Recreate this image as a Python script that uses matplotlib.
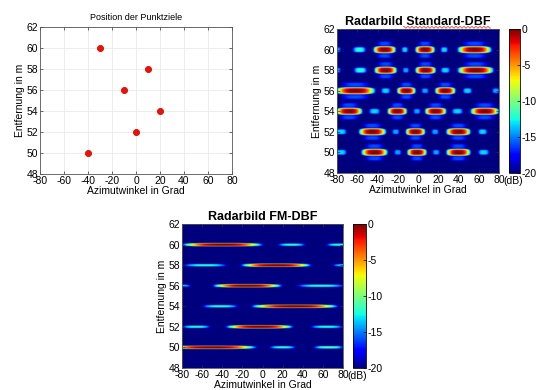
import numpy as np
import matplotlib
matplotlib.use('Agg')
import matplotlib.pyplot as plt

plt.rcParams['font.family'] = ['Liberation Sans', 'DejaVu Sans']
plt.rcParams['axes.unicode_minus'] = False

# ---------------- data ----------------
target_az = [-30, 10, -10, 20, 0, -40]
target_rng = [60, 58, 56, 54, 52, 50]

x_ticks = [-80, -60, -40, -20, 0, 20, 40, 60, 80]
y_ticks = [48, 50, 52, 54, 56, 58, 60, 62]
cbar_ticks = [0, -5, -10, -15, -20]

# Standard-DBF image: lobes (range m, azimuth deg, peak dB, half width deg)
std_rng = [60]*7 + [58]*7 + [56]*7 + [54]*7 + [52]*7 + [50]*7
std_az = [-80, -58, -33, -13, 7, 26, 56,
          -80, -57, -32, -12, 7.5, 27, 57,
          -62, -32, -11.5, 7, 27, 49, 77,
          -68, -43, -20.5, -1, 17.5, 39, 66,
          -76, -45, -22, -2.5, 17, 40, 64,
          -76, -43, -20, -1, 18, 40, 65]
std_peak = [-14, -12, 0, -13, 0, -13, 0,
            -14, -12, 0, -14, 0, -13, 0,
            0, -13, 0, -14, 0, -13, -14,
            0, -13, 0, -14, 0, -13, 0,
            -13, 0, -14, 0, -14, 0, -13,
            -13, 0, -14, 0, -14, 0, -13]
std_hw = [4, 7, 12, 3.5, 10.5, 4, 18,
          4, 7, 12, 3.5, 11, 5, 19,
          21, 5, 10, 4, 11, 5, 4,
          14, 6, 10.5, 4, 11.5, 6, 15,
          6, 14.5, 4, 10.5, 4, 13, 5,
          6, 14, 4, 10.5, 4, 13, 6]

# FM-DBF image lobes
fm_rng = [60]*3 + [58]*3 + [56]*3 + [54]*2 + [52]*3 + [50]*3
fm_az = [-40, 29, 76,
         -57, 13.5, 82,
         -84, -15, 58,
         -42, 32,
         -66, -3, 64,
         -50, 20, 66]
fm_peak = [0, -12, -12,
           -12, 0, -13,
           -13, 0, -12,
           -12, 0,
           -12, 0, -12,
           0, -12, -11]
fm_hw = [42, 14.6, 13,
         23, 36.5, 13,
         14, 36, 25,
         19, 45,
         15, 35, 17,
         46, 14, 16]

DB_MIN, DB_MAX = -20, 0


def render(rng, az, peak, hw, hw_r, p, p_r, halo):
    a = np.linspace(-80, 80, 480)
    r = np.linspace(48, 62, 420)
    A, R = np.meshgrid(a, r)
    img = np.full(A.shape, -40.0)
    lobes = list(zip(rng, az, peak, hw))
    if halo:
        for (r0, a0, pk, w) in list(lobes):
            if pk >= -1:
                lobes.append((r0 + 0.6, a0, -16, 0.7 * w))
                lobes.append((r0 - 0.6, a0, -16, 0.7 * w))
    for (r0, a0, pk, w) in lobes:
        v = (pk - (20 + pk) * (np.abs(A - a0) / w) ** p
             - 20 * (np.abs(R - r0) / hw_r) ** p_r)
        img = np.maximum(img, v)
    return np.clip(img, DB_MIN, DB_MAX)


img_std = render(std_rng, std_az, std_peak, std_hw, 0.38, 3, 4, True)
img_fm = render(fm_rng, fm_az, fm_peak, fm_hw, 0.18, 3, 4, False)

# ---------------- figure ----------------
W, H = 550, 390
fig = plt.figure(figsize=(W / 100, H / 100), dpi=100)


def box(l, t, r, b):
    return [l / W, 1 - b / H, (r - l) / W, (b - t) / H]


TICK_FS = 7.5
LAB_FS = 7.5


def style_axes(ax):
    ax.set_xlim(-80, 80)
    ax.set_ylim(48, 62)
    ax.set_xticks(x_ticks)
    ax.set_yticks(y_ticks)
    ax.tick_params(direction='in', length=2.5, width=0.5, labelsize=TICK_FS,
                   pad=1.5, top=True, right=True, colors='#333333',
                   labelcolor='black')
    for s in ax.spines.values():
        s.set_linewidth(0.6)
        s.set_color('#555555')
    ax.set_xlabel('Azimutwinkel in Grad', fontsize=LAB_FS, labelpad=0)
    ax.set_ylabel('Entfernung in m', fontsize=LAB_FS, labelpad=1)


# top-left scatter
ax1 = fig.add_axes(box(40, 27, 232, 174))
ax1.scatter(target_az, target_rng, s=20, color='#ee1100', edgecolors='#cc0000',
            linewidths=0.5, zorder=3)
style_axes(ax1)
ax1.grid(True, color='#e6e6e6', linewidth=0.5)
ax1.set_axisbelow(True)
ax1.set_title('Position der Punktziele', fontsize=6.5, pad=5)


def image_panel(img, axbox, cbbox, title):
    ax = fig.add_axes(box(*axbox))
    im = ax.imshow(img, origin='lower', extent=[-80, 80, 48, 62], aspect='auto',
                   cmap='jet', vmin=DB_MIN, vmax=DB_MAX, interpolation='bilinear')
    style_axes(ax)
    ax.set_title(title, fontsize=9, fontweight='bold', pad=3)
    cax = fig.add_axes(box(*cbbox))
    cb = fig.colorbar(im, cax=cax, ticks=cbar_ticks)
    cb.ax.tick_params(labelsize=TICK_FS, length=2, width=0.5, direction='in', pad=1)
    cb.outline.set_linewidth(0.6)
    cb.ax.set_yticklabels([str(t) for t in cbar_ticks])
    fig.text((cbbox[0] + 4) / W, 1 - (cbbox[3] + 8) / H, '(dB)',
             fontsize=TICK_FS, ha='center', va='center')
    return ax


ax2 = image_panel(img_std, (337, 29, 499, 173), (509, 29, 520, 173),
                  'Radarbild Standard-DBF')
ax3 = image_panel(img_fm, (182, 224, 343, 368), (353, 224, 366, 368),
                  'Radarbild FM-DBF')

# spell-check squiggle under "Standard-DBF" of the title
fig.canvas.draw()
t = ax2.title
bb = t.get_window_extent()
x0 = bb.x0 + 0.4 * bb.width
x1 = bb.x1
xs = np.arange(x0, x1, 1.0)
ys = bb.y0 + 0.5 + 0.7 * np.where((np.arange(len(xs)) // 2) % 2 == 0, 1, -1)
fig.add_artist(plt.Line2D(xs / W, ys / H, color='#dd2222', linewidth=0.5,
                          transform=fig.transFigure))

fig.savefig('out.png', dpi=100)
